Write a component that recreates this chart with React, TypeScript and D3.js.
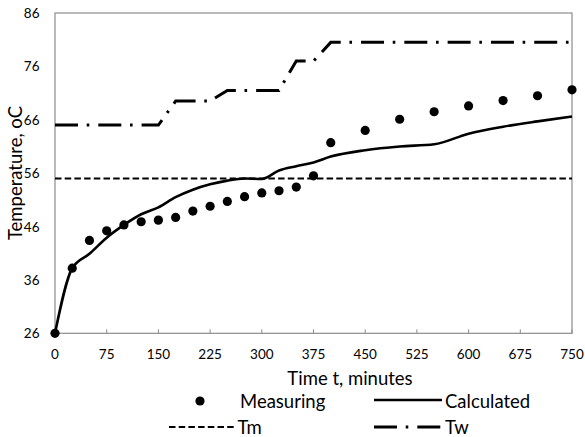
import React from "react";
import * as d3 from "d3";

const yTicks = [26, 36, 46, 56, 66, 76, 86];
const xTicks = [0, 75, 150, 225, 300, 375, 450, 525, 600, 675, 750];

const measT = [0, 25, 50, 75, 100, 125, 150, 175, 200, 225, 250, 275, 300, 325, 350, 375, 400, 450, 500, 550, 600, 650, 700, 750];
const measV = [26, 38.2, 43.4, 45.2, 46.3, 46.9, 47.2, 47.7, 48.9, 49.8, 50.7, 51.6, 52.3, 52.7, 53.4, 55.5, 61.7, 64.0, 66.1, 67.5, 68.6, 69.6, 70.5, 71.6];

const calcT = [0, 25, 50, 75, 100, 125, 150, 175, 200, 225, 250, 275, 300, 325, 350, 375, 400, 450, 500, 550, 600, 650, 700, 750];
const calcV = [26, 38.2, 40.9, 43.9, 46.3, 48.3, 49.6, 51.5, 52.9, 53.9, 54.6, 55.0, 54.9, 56.5, 57.3, 58.0, 59.1, 60.3, 61.0, 61.4, 63.4, 64.7, 65.7, 66.6];

const tmT = [0, 750];
const tmV = [55, 55];

const twT = [0, 150, 175, 225, 250, 325, 350, 375, 400, 750];
const twV = [65, 65, 69.5, 69.5, 71.5, 71.5, 77, 77, 80.5, 80.5];

const FONT = "Lato, 'Open Sans', sans-serif";
const GRAY = "#8c8c8c";

export default function App() {
  const x = d3.scaleLinear().domain([0, 750]).range([55, 572]);
  const y = d3.scaleLinear().domain([26, 86]).range([333.3, 13]);

  const toPts = (ts: number[], vs: number[]) => ts.map((t, i) => [t, vs[i]] as [number, number]);

  const straight = d3
    .line<[number, number]>()
    .x((d) => x(d[0]))
    .y((d) => y(d[1]));
  const smooth = d3
    .line<[number, number]>()
    .x((d) => x(d[0]))
    .y((d) => y(d[1]))
    .curve(d3.curveMonotoneX);

  const calcPath = smooth(toPts(calcT, calcV)) || "";
  const tmPath = straight(toPts(tmT, tmV)) || "";
  const twPath = straight(toPts(twT, twV)) || "";

  const [x0, x1] = x.range();
  const [yb, yt] = y.range();

  const TW_DASH = "23,8.7,2.6,9";
  const TM_DASH = "6.5,3.2";

  return (
    <svg
      width={585}
      height={437}
      style={{ position: "absolute", left: 0, top: 0, background: "#fff" }}
      fontFamily={FONT}
    >
      <rect x={0} y={0} width={585} height={437} fill="#fff" />
      {/* plot border */}
      <rect x={x0} y={yt} width={x1 - x0} height={yb - yt} fill="none" stroke={GRAY} strokeWidth={1.2} />
      {/* x ticks (inward) */}
      {xTicks.map((t) => (
        <line key={"xt" + t} x1={x(t)} x2={x(t)} y1={yb} y2={yb - 4} stroke={GRAY} strokeWidth={1} />
      ))}
      {/* x tick labels */}
      {xTicks.map((t) => (
        <text key={"xl" + t} x={x(t)} y={354} textAnchor="middle" dominantBaseline="central" fontSize={13.5} fill="#000">
          {t}
        </text>
      ))}
      {/* y tick labels */}
      {yTicks.map((v) => (
        <text key={"yl" + v} x={39.5} y={y(v)} textAnchor="end" dominantBaseline="central" fontSize={13.5} fill="#000">
          {v}
        </text>
      ))}

      {/* series */}
      <path d={tmPath} fill="none" stroke="#000" strokeWidth={2.2} strokeDasharray={TM_DASH} />
      <path d={twPath} fill="none" stroke="#000" strokeWidth={3} strokeDasharray={TW_DASH} />
      <path d={calcPath} fill="none" stroke="#000" strokeWidth={2.6} strokeLinejoin="round" />
      {measT.map((t, i) => (
        <circle key={"m" + i} cx={x(t)} cy={y(measV[i])} r={4.6} fill="#000" />
      ))}

      {/* axis titles */}
      <text x={350} y={378} textAnchor="middle" dominantBaseline="central" fontSize={18.5} fill="#000">
        Time t, minutes
      </text>
      <text
        transform={`translate(15,173) rotate(-90)`}
        textAnchor="middle"
        dominantBaseline="central"
        fontSize={18.5}
        fill="#000"
      >
        Temperature, oC
      </text>

      {/* legend */}
      <circle cx={200} cy={401} r={4.6} fill="#000" />
      <text x={240} y={401} dominantBaseline="central" fontSize={18.5} fill="#000">
        Measuring
      </text>
      <line x1={374} x2={442} y1={400} y2={400} stroke="#000" strokeWidth={2.6} />
      <text x={445} y={401} dominantBaseline="central" fontSize={18.5} fill="#000">
        Calculated
      </text>
      <line x1={169} x2={234} y1={427} y2={427} stroke="#000" strokeWidth={2.2} strokeDasharray={TM_DASH} />
      <text x={237.5} y={427} dominantBaseline="central" fontSize={18.5} fill="#000">
        Tm
      </text>
      <line x1={374} x2={442} y1={427} y2={427} stroke="#000" strokeWidth={3} strokeDasharray={TW_DASH} />
      <text x={445} y={427} dominantBaseline="central" fontSize={18.5} fill="#000">
        Tw
      </text>
    </svg>
  );
}
